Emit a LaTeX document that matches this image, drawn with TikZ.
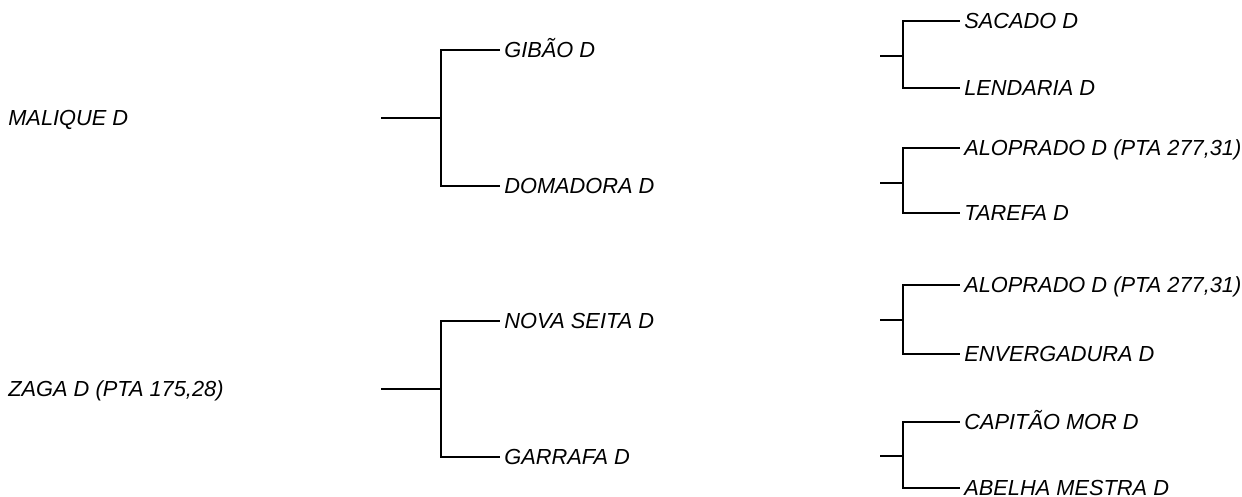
\documentclass[tikz,border=0pt]{standalone}
\usepackage{fontspec}
\setmainfont{Liberation Sans}
\usepackage{tikz}
\usetikzlibrary{positioning}

\begin{document}
\begin{tikzpicture}[x=1pt, y=-1pt, line width=2.6pt]
  \tikzstyle{every node} = [font=\itshape\fontsize{21.8}{26}\selectfont,
			    anchor = west,
			    inner xsep = 4pt,
			    inner ysep = 0pt,
			    text height = 15.6pt,
			    text depth = 0pt]
\tikzset{Branch/.style={line cap=rect}}
\useasboundingbox (0,0) rectangle (1242,497);

% left side
\node (maliq) at (3,118) {MALIQUE D};
\node (zaga) at (3,389) {ZAGA D (PTA 175,28)};

\coordinate (S1) at (382,118);
\coordinate (J1) at (441,118);
\node (gibao) at (499,50) {GIBÃO D};
\node (domad) at (499,186) {DOMADORA D};
\draw[Branch] (S1) -- (J1);
\draw[Branch] (gibao.west) -| (J1) |- (domad.west);

\coordinate (S2) at (382,389);
\coordinate (J2) at (441,389);
\node (nova) at (499,321) {NOVA SEITA D};
\node (garra) at (499,457) {GARRAFA D};
\draw[Branch] (S2) -- (J2);
\draw[Branch] (nova.west) -| (J2) |- (garra.west);

% right side
\coordinate (S3) at (881,56);
\coordinate (J3) at (903,56);
\node (sacado) at (959,21) {SACADO D};
\node (lendar) at (959,88) {LENDARIA D};
\draw[Branch] (S3) -- (J3);
\draw[Branch] (sacado.west) -| (J3) |- (lendar.west);

\coordinate (S4) at (881,183);
\coordinate (J4) at (903,183);
\node (alopA) at (959,148) {ALOPRADO D (PTA 277,31)};
\node (taref) at (959,213) {TAREFA D};
\draw[Branch] (S4) -- (J4);
\draw[Branch] (alopA.west) -| (J4) |- (taref.west);

\coordinate (S5) at (881,320);
\coordinate (J5) at (903,320);
\node (alopB) at (959,285) {ALOPRADO D (PTA 277,31)};
\node (enverg) at (959,354) {ENVERGADURA D};
\draw[Branch] (S5) -- (J5);
\draw[Branch] (alopB.west) -| (J5) |- (enverg.west);

\coordinate (S6) at (881,456);
\coordinate (J6) at (903,456);
\node (capit) at (959,422) {CAPITÃO MOR D};
\node (abelha) at (959,488) {ABELHA MESTRA D};
\draw[Branch] (S6) -- (J6);
\draw[Branch] (capit.west) -| (J6) |- (abelha.west);

\end{tikzpicture}
\end{document}
